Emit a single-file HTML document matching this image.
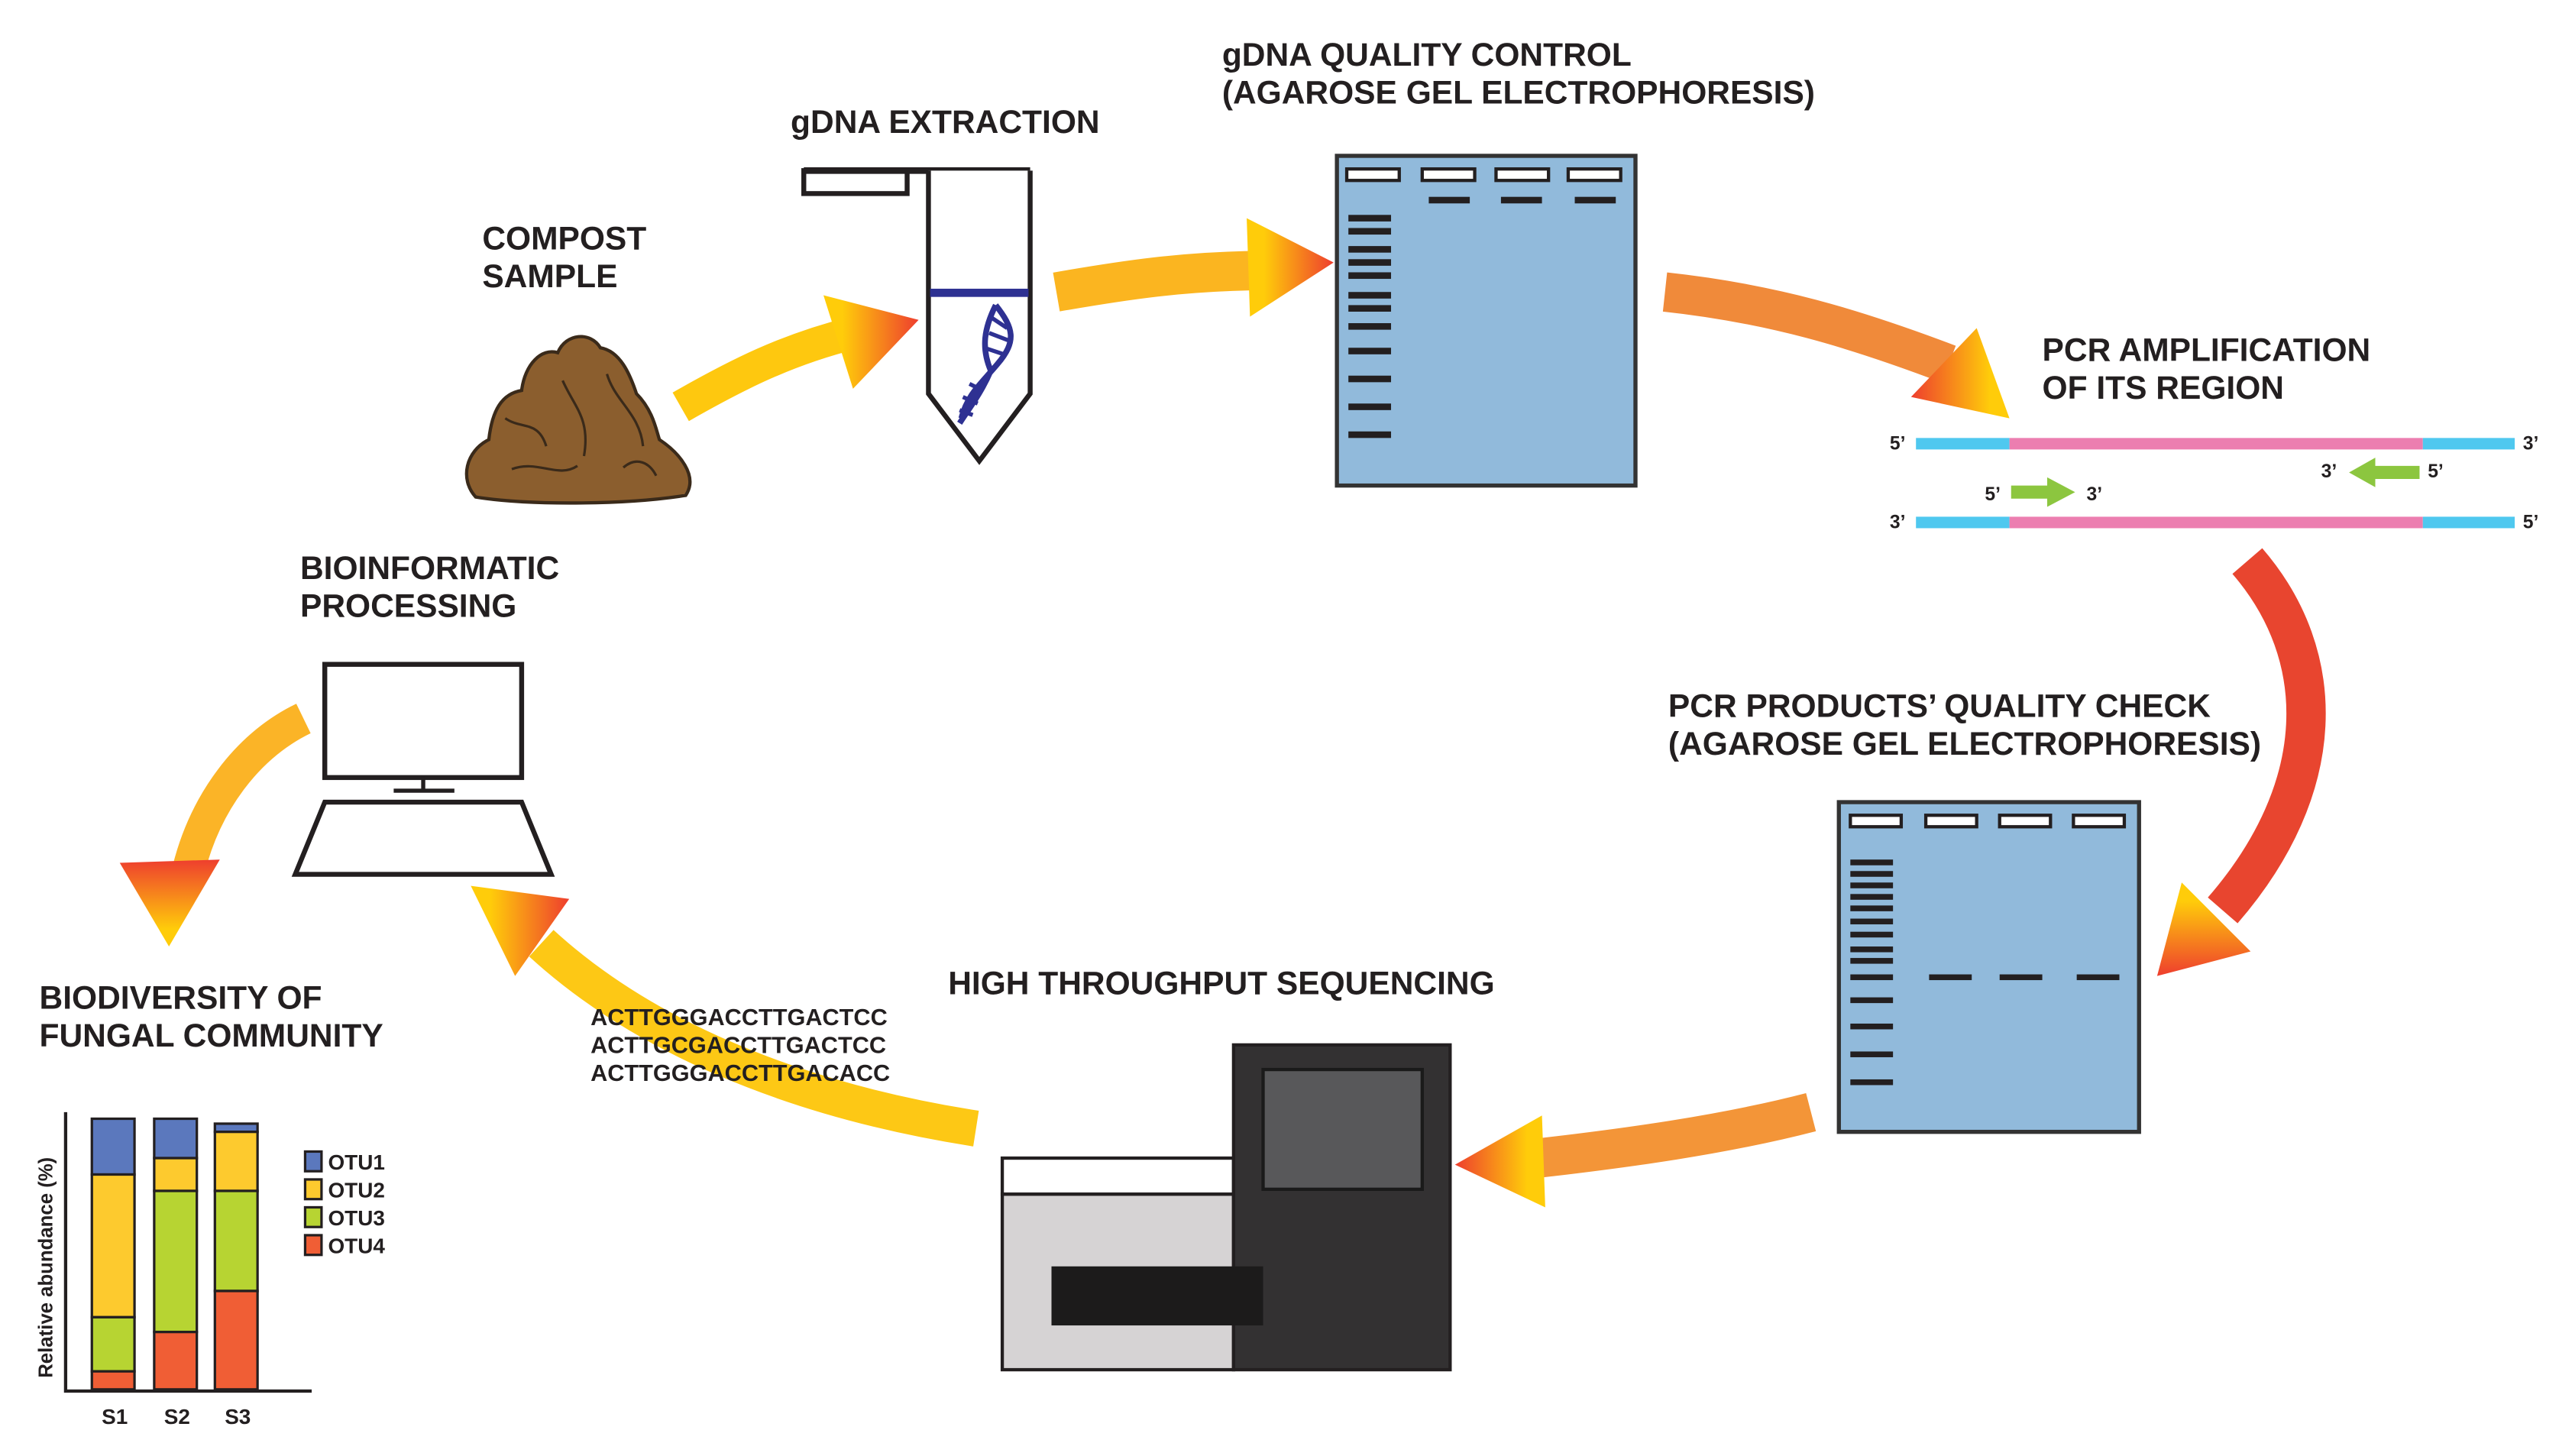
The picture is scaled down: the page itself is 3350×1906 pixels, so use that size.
<!DOCTYPE html>
<html><head><meta charset="utf-8"><style>
html,body{margin:0;padding:0;background:#fff;}
svg{display:block;}
text{font-family:"Liberation Sans",Arial,sans-serif;fill:#231f20;}
.lbl{font-size:19.8px;font-weight:bold;}
.seq{font-size:14.3px;font-weight:bold;}
.sm{font-size:11.5px;font-weight:bold;}
</style></head><body>
<svg width="3350" height="1906" viewBox="0 0 1560 887.6" preserveAspectRatio="none" xmlns="http://www.w3.org/2000/svg">
<defs>
<linearGradient id="hy" x1="0" y1="0" x2="1" y2="0"><stop offset="0.2" stop-color="#ffcc0a"/><stop offset="1" stop-color="#ee3e2e"/></linearGradient>
<linearGradient id="hy2" x1="0" y1="1" x2="0" y2="0"><stop offset="0.2" stop-color="#ffcc0a"/><stop offset="1" stop-color="#ee3e2e"/></linearGradient>
<linearGradient id="hy3" x1="1" y1="0" x2="0" y2="0"><stop offset="0.2" stop-color="#ffcc0a"/><stop offset="1" stop-color="#ee3e2e"/></linearGradient>
<linearGradient id="hy4" x1="0" y1="0" x2="0" y2="1"><stop offset="0.2" stop-color="#ffcc0a"/><stop offset="1" stop-color="#ee3e2e"/></linearGradient>
</defs>

<text class="lbl" x="294" y="152">COMPOST</text>
<text class="lbl" x="294" y="175">SAMPLE</text>
<text class="lbl" x="482" y="81">gDNA EXTRACTION</text>
<text class="lbl" x="745" y="40">gDNA QUALITY CONTROL</text>
<text class="lbl" x="745" y="63">(AGAROSE GEL ELECTROPHORESIS)</text>
<text class="lbl" x="1245" y="220">PCR AMPLIFICATION</text>
<text class="lbl" x="1245" y="243">OF ITS REGION</text>
<text class="lbl" x="1017" y="437">PCR PRODUCTS’ QUALITY CHECK</text>
<text class="lbl" x="1017" y="460">(AGAROSE GEL ELECTROPHORESIS)</text>
<text class="lbl" x="578" y="606">HIGH THROUGHPUT SEQUENCING</text>
<text class="lbl" x="183" y="353">BIOINFORMATIC</text>
<text class="lbl" x="183" y="376">PROCESSING</text>
<text class="lbl" x="24" y="615">BIODIVERSITY OF</text>
<text class="lbl" x="24" y="638">FUNGAL COMMUNITY</text>

<!-- compost -->
<path d="M290,303 C280,292 284,275 298,268 C300,250 306,240 318,238 C320,222 330,212 340,215 C345,203 360,202 366,212 C378,214 384,228 388,240 C398,250 400,262 402,268 C414,276 426,290 418,302 C380,308 320,308 290,303 Z" fill="#8b5e2e" stroke="#3a2a1a" stroke-width="2"/>
<path d="M308,255 C318,262 328,256 333,272 M343,232 C350,248 360,255 356,278 M370,228 C375,245 390,252 392,272 M312,286 C328,280 340,292 352,284 M380,285 C388,278 396,282 400,290" fill="none" stroke="#3a2a1a" stroke-width="1.5"/>

<path d="M415,248 C450,228 480,213 520,203" fill="none" stroke="#fec80f" stroke-width="20"/>
<polygon points="502,180 560,195 520,237" fill="url(#hy)"/>

<!-- tube -->
<rect x="490" y="104" width="63" height="14" fill="#fff" stroke="#231f20" stroke-width="3"/>
<path d="M490,104 H628" stroke="#231f20" stroke-width="4"/>
<path d="M566,104 V240 L597,281 L628,240 V104" fill="#fff" stroke="#231f20" stroke-width="3"/>
<rect x="567" y="176" width="60" height="5" fill="#2e3192"/>
<path d="M607,186 C618,200 620,208 608,222 C598,234 590,240 586,255 M607,186 C600,200 598,212 604,226 C598,240 590,250 585,258" fill="none" stroke="#2e3192" stroke-width="3.5"/>
<path d="M605,194 L614,200 M603,203 L616,208 M600,212 L612,216 M591,234 L599,238 M587,242 L596,246 M585,250 L593,253" stroke="#2e3192" stroke-width="2.5"/>

<path d="M644,178 C690,170 720,166 762,165" fill="none" stroke="#fbb520" stroke-width="24"/>
<polygon points="760,133 813,160 762,193" fill="url(#hy)"/>

<rect x="815" y="95" width="182" height="201" fill="#91badb" stroke="#333" stroke-width="2.5"/>
<g fill="#fff" stroke="#231f20" stroke-width="2">
<rect x="821" y="103" width="32" height="7"/><rect x="867" y="103" width="32" height="7"/><rect x="912" y="103" width="32" height="7"/><rect x="956" y="103" width="32" height="7"/>
</g>
<g fill="#231f20">
<rect x="871" y="120" width="25" height="4"/><rect x="915" y="120" width="25" height="4"/><rect x="960" y="120" width="25" height="4"/>
<rect x="822" y="131" width="26" height="4"/><rect x="822" y="139" width="26" height="4"/><rect x="822" y="150" width="26" height="4"/><rect x="822" y="158" width="26" height="4"/><rect x="822" y="166" width="26" height="4"/><rect x="822" y="178" width="26" height="4"/><rect x="822" y="186" width="26" height="4"/><rect x="822" y="197" width="26" height="4"/><rect x="822" y="212" width="26" height="4"/><rect x="822" y="229" width="26" height="4"/><rect x="822" y="246" width="26" height="4"/><rect x="822" y="263" width="26" height="4"/>
</g>

<path d="M1015,178 C1080,185 1130,200 1188,222" fill="none" stroke="#f08a3a" stroke-width="24"/>
<polygon points="1205,200 1225,255 1165,242" fill="url(#hy3)"/>

<rect x="1168" y="267" width="57" height="7" fill="#4fc8ef"/><rect x="1225" y="267" width="252" height="7" fill="#ec7eb0"/><rect x="1477" y="267" width="56" height="7" fill="#4fc8ef"/>
<rect x="1168" y="315" width="57" height="7" fill="#4fc8ef"/><rect x="1225" y="315" width="252" height="7" fill="#ec7eb0"/><rect x="1477" y="315" width="56" height="7" fill="#4fc8ef"/>
<polygon points="1475,284 1448,284 1448,279 1432,288 1448,297 1448,292 1475,292" fill="#8cc63f"/>
<polygon points="1226,296 1248,296 1248,291 1265,300 1248,309 1248,304 1226,304" fill="#8cc63f"/>
<text class="sm" x="1152" y="274">5’</text><text class="sm" x="1538" y="274">3’</text>
<text class="sm" x="1152" y="322">3’</text><text class="sm" x="1538" y="322">5’</text>
<text class="sm" x="1415" y="291">3’</text><text class="sm" x="1480" y="291">5’</text>
<text class="sm" x="1210" y="305">5’</text><text class="sm" x="1272" y="305">3’</text>

<path d="M1370,342 C1420,400 1420,480 1355,555" fill="none" stroke="#e8452f" stroke-width="24"/>
<polygon points="1330,538 1372,580 1315,595" fill="url(#hy4)"/>

<rect x="1121" y="489" width="183" height="201" fill="#91badb" stroke="#333" stroke-width="2.5"/>
<g fill="#fff" stroke="#231f20" stroke-width="2">
<rect x="1128" y="497" width="31" height="7"/><rect x="1174" y="497" width="31" height="7"/><rect x="1219" y="497" width="31" height="7"/><rect x="1264" y="497" width="31" height="7"/>
</g>
<g fill="#231f20">
<rect x="1128" y="524" width="26" height="3.5"/><rect x="1128" y="531" width="26" height="3.5"/><rect x="1128" y="538" width="26" height="3.5"/><rect x="1128" y="545" width="26" height="3.5"/><rect x="1128" y="552" width="26" height="3.5"/><rect x="1128" y="560" width="26" height="3.5"/><rect x="1128" y="568" width="26" height="3.5"/><rect x="1128" y="577" width="26" height="3.5"/><rect x="1128" y="584" width="26" height="3.5"/><rect x="1128" y="594" width="26" height="3.5"/><rect x="1128" y="608" width="26" height="3.5"/><rect x="1128" y="624" width="26" height="3.5"/><rect x="1128" y="641" width="26" height="3.5"/><rect x="1128" y="658" width="26" height="3.5"/>
<rect x="1176" y="594" width="26" height="3.5"/><rect x="1219" y="594" width="26" height="3.5"/><rect x="1266" y="594" width="26" height="3.5"/>
</g>

<path d="M1104,678 C1050,692 990,700 938,706" fill="none" stroke="#f39538" stroke-width="24"/>
<polygon points="940,680 887,710 942,736" fill="url(#hy3)"/>

<rect x="611" y="706" width="141" height="22" fill="#fff" stroke="#231f20" stroke-width="2"/>
<rect x="611" y="728" width="141" height="107" fill="#d6d3d4" stroke="#231f20" stroke-width="2"/>
<rect x="752" y="637" width="132" height="198" fill="#333132" stroke="#231f20" stroke-width="2"/>
<rect x="770" y="652" width="97" height="73" fill="#58585a" stroke="#1a1a1a" stroke-width="2"/>
<rect x="641" y="772" width="129" height="36" fill="#1c1b1b"/>

<path d="M595,688 C480,670 390,630 330,575" fill="none" stroke="#fdc815" stroke-width="22"/>
<polygon points="287,540 347,548 314,595" fill="url(#hy)"/>
<text class="seq" x="360" y="625">ACTTGGGACCTTGACTCC</text>
<text class="seq" x="360" y="642">ACTTGCGACCTTGACTCC</text>
<text class="seq" x="360" y="659">ACTTGGGACCTTGACACC</text>

<rect x="198" y="405" width="120" height="69" fill="#fff" stroke="#231f20" stroke-width="3"/>
<path d="M258,474 V482 M240,482 H277" stroke="#231f20" stroke-width="2.5"/>
<polygon points="198,489 318,489 336,533 180,533" fill="#fff" stroke="#231f20" stroke-width="3"/>

<path d="M185,438 C150,455 125,490 115,530" fill="none" stroke="#fbb427" stroke-width="20"/>
<polygon points="73,526 134,524 103,577" fill="url(#hy2)"/>

<path d="M40,678 V848 H190" fill="none" stroke="#231f20" stroke-width="2"/>
<g stroke="#231f20" stroke-width="1.5">
<rect x="56" y="682" width="26" height="34" fill="#5b78bd"/><rect x="56" y="716" width="26" height="87" fill="#fdca2e"/><rect x="56" y="803" width="26" height="33" fill="#b7d432"/><rect x="56" y="836" width="26" height="11" fill="#f05e35"/>
<rect x="94" y="682" width="26" height="24" fill="#5b78bd"/><rect x="94" y="706" width="26" height="20" fill="#fdca2e"/><rect x="94" y="726" width="26" height="86" fill="#b7d432"/><rect x="94" y="812" width="26" height="35" fill="#f05e35"/>
<rect x="131" y="685" width="26" height="5" fill="#5b78bd"/><rect x="131" y="690" width="26" height="36" fill="#fdca2e"/><rect x="131" y="726" width="26" height="61" fill="#b7d432"/><rect x="131" y="787" width="26" height="60" fill="#f05e35"/>
<rect x="186" y="702" width="10" height="12" fill="#5b78bd"/><rect x="186" y="719" width="10" height="12" fill="#fdca2e"/><rect x="186" y="736" width="10" height="12" fill="#b7d432"/><rect x="186" y="753" width="10" height="12" fill="#f05e35"/>
</g>
<text class="sm" x="200" y="713" style="font-size:13px">OTU1</text>
<text class="sm" x="200" y="730" style="font-size:13px">OTU2</text>
<text class="sm" x="200" y="747" style="font-size:13px">OTU3</text>
<text class="sm" x="200" y="764" style="font-size:13px">OTU4</text>
<text class="sm" x="62" y="868" style="font-size:13px">S1</text>
<text class="sm" x="100" y="868" style="font-size:13px">S2</text>
<text class="sm" x="137" y="868" style="font-size:13px">S3</text>
<text class="sm" transform="translate(32,840) rotate(-90)" style="font-size:12px">Relative abundance (%)</text>
</svg>
</body></html>
